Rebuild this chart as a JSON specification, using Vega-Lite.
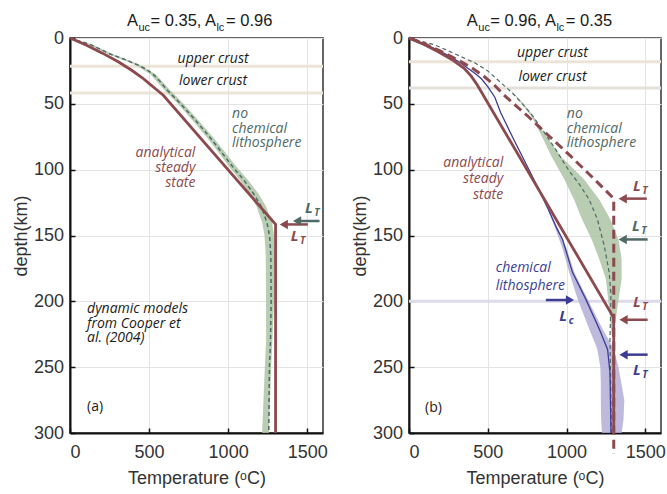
{
"$schema": "https://vega.github.io/schema/vega-lite/v6.json",
"padding": {"left": 11, "top": 12, "right": 0, "bottom": 0},
"config": {
  "view": {"stroke": "#333", "strokeWidth": 1.5},
  "axis": {"labelFont": "Liberation Sans", "labelFontSize": 18, "titleFont": "Liberation Sans", "titleFontSize": 18, "titleFontWeight": "normal", "labelColor": "#333", "titleColor": "#333", "domainColor": "#111", "domainWidth": 2, "gridColor": "#e3e3e3", "tickColor": "#111", "tickSize": -5, "tickWidth": 1.5},
  "concat": {"spacing": 22}
},
"datasets": {
  "ln": [
    {"p":"a","c":"analytic","x":0,"d":0},{"p":"a","c":"analytic","x":105,"d":5.5},{"p":"a","c":"analytic","x":205,"d":11.5},{"p":"a","c":"analytic","x":305,"d":18},{"p":"a","c":"analytic","x":390,"d":24.5},{"p":"a","c":"analytic","x":455,"d":30},{"p":"a","c":"analytic","x":505,"d":35},{"p":"a","c":"analytic","x":550,"d":39.5},{"p":"a","c":"analytic","x":590,"d":43.5},{"p":"a","c":"analytic","x":1300,"d":141.5},{"p":"a","c":"analytic","x":1300,"d":300},
    {"p":"a","c":"dynamic","x":0,"d":0},{"p":"a","c":"dynamic","x":130,"d":5},{"p":"a","c":"dynamic","x":250,"d":12},{"p":"a","c":"dynamic","x":340,"d":16},{"p":"a","c":"dynamic","x":420,"d":20},{"p":"a","c":"dynamic","x":480,"d":23.5},{"p":"a","c":"dynamic","x":525,"d":27.5},{"p":"a","c":"dynamic","x":570,"d":33},{"p":"a","c":"dynamic","x":610,"d":39},{"p":"a","c":"dynamic","x":700,"d":50},{"p":"a","c":"dynamic","x":797,"d":63},{"p":"a","c":"dynamic","x":882,"d":75},{"p":"a","c":"dynamic","x":960,"d":87},{"p":"a","c":"dynamic","x":1030,"d":98},{"p":"a","c":"dynamic","x":1100,"d":108},{"p":"a","c":"dynamic","x":1160,"d":118},{"p":"a","c":"dynamic","x":1210,"d":128},{"p":"a","c":"dynamic","x":1245,"d":140},{"p":"a","c":"dynamic","x":1262,"d":150},{"p":"a","c":"dynamic","x":1270,"d":165},{"p":"a","c":"dynamic","x":1272,"d":200},{"p":"a","c":"dynamic","x":1268,"d":230},{"p":"a","c":"dynamic","x":1261,"d":250},{"p":"a","c":"dynamic","x":1257,"d":300},
    {"p":"b","c":"analytic","x":0,"d":0},{"p":"b","c":"analytic","x":95,"d":5},{"p":"b","c":"analytic","x":180,"d":10},{"p":"b","c":"analytic","x":280,"d":17},{"p":"b","c":"analytic","x":350,"d":23},{"p":"b","c":"analytic","x":395,"d":29},{"p":"b","c":"analytic","x":430,"d":35},{"p":"b","c":"analytic","x":455,"d":40},{"p":"b","c":"analytic","x":1300,"d":212.5},{"p":"b","c":"analytic","x":1300,"d":300},
    {"p":"b","c":"analytic_b","x":0,"d":0},{"p":"b","c":"analytic_b","x":100,"d":4.5},{"p":"b","c":"analytic_b","x":200,"d":10},{"p":"b","c":"analytic_b","x":300,"d":16},{"p":"b","c":"analytic_b","x":390,"d":22},{"p":"b","c":"analytic_b","x":470,"d":28.5},{"p":"b","c":"analytic_b","x":540,"d":35.5},{"p":"b","c":"analytic_b","x":600,"d":43},{"p":"b","c":"analytic_b","x":680,"d":51.5},{"p":"b","c":"analytic_b","x":760,"d":60},{"p":"b","c":"analytic_b","x":840,"d":69},{"p":"b","c":"analytic_b","x":930,"d":79},{"p":"b","c":"analytic_b","x":1020,"d":89},{"p":"b","c":"analytic_b","x":1110,"d":99.5},{"p":"b","c":"analytic_b","x":1200,"d":110},{"p":"b","c":"analytic_b","x":1300,"d":122},{"p":"b","c":"analytic_b","x":1300,"d":316},
    {"p":"b","c":"chemical","x":0,"d":0},{"p":"b","c":"chemical","x":90,"d":4},{"p":"b","c":"chemical","x":180,"d":9},{"p":"b","c":"chemical","x":260,"d":14},{"p":"b","c":"chemical","x":328,"d":19},{"p":"b","c":"chemical","x":380,"d":23.5},{"p":"b","c":"chemical","x":420,"d":27},{"p":"b","c":"chemical","x":460,"d":31},{"p":"b","c":"chemical","x":500,"d":37},{"p":"b","c":"chemical","x":545,"d":45},{"p":"b","c":"chemical","x":583,"d":57},{"p":"b","c":"chemical","x":669,"d":78},{"p":"b","c":"chemical","x":753,"d":98},{"p":"b","c":"chemical","x":816,"d":113},{"p":"b","c":"chemical","x":880,"d":129},{"p":"b","c":"chemical","x":940,"d":145},{"p":"b","c":"chemical","x":975,"d":153},{"p":"b","c":"chemical","x":1038,"d":178},{"p":"b","c":"chemical","x":1123,"d":198.5},{"p":"b","c":"chemical","x":1208,"d":221},{"p":"b","c":"chemical","x":1261,"d":236.5},{"p":"b","c":"chemical","x":1276,"d":254},{"p":"b","c":"chemical","x":1282,"d":297},{"p":"b","c":"chemical","x":1282,"d":300},
    {"p":"b","c":"dynamic","x":0,"d":0},{"p":"b","c":"dynamic","x":159,"d":5},{"p":"b","c":"dynamic","x":300,"d":12.5},{"p":"b","c":"dynamic","x":420,"d":19},{"p":"b","c":"dynamic","x":500,"d":25},{"p":"b","c":"dynamic","x":593,"d":35},{"p":"b","c":"dynamic","x":650,"d":41},{"p":"b","c":"dynamic","x":720,"d":50},{"p":"b","c":"dynamic","x":784,"d":59},{"p":"b","c":"dynamic","x":850,"d":70},{"p":"b","c":"dynamic","x":933,"d":85},{"p":"b","c":"dynamic","x":1017,"d":101},{"p":"b","c":"dynamic","x":1081,"d":111},{"p":"b","c":"dynamic","x":1144,"d":122.7},{"p":"b","c":"dynamic","x":1197,"d":138},{"p":"b","c":"dynamic","x":1240,"d":158},{"p":"b","c":"dynamic","x":1271,"d":178},{"p":"b","c":"dynamic","x":1282,"d":195},{"p":"b","c":"dynamic","x":1280,"d":210},{"p":"b","c":"dynamic","x":1276,"d":229},{"p":"b","c":"dynamic","x":1280,"d":260},{"p":"b","c":"dynamic","x":1285,"d":300}
  ],
  "bd": [
    {"p":"a","c":"band_dyn","d":0,"x":0,"hi":0},{"p":"a","c":"band_dyn","d":5,"x":118,"hi":142},{"p":"a","c":"band_dyn","d":12,"x":235,"hi":265},{"p":"a","c":"band_dyn","d":20,"x":405,"hi":435},{"p":"a","c":"band_dyn","d":27.5,"x":508,"hi":542},{"p":"a","c":"band_dyn","d":39,"x":592,"hi":628},{"p":"a","c":"band_dyn","d":50,"x":682,"hi":718},{"p":"a","c":"band_dyn","d":63,"x":778,"hi":816},{"p":"a","c":"band_dyn","d":75,"x":862,"hi":902},{"p":"a","c":"band_dyn","d":87,"x":940,"hi":982},{"p":"a","c":"band_dyn","d":98,"x":1008,"hi":1054},{"p":"a","c":"band_dyn","d":108,"x":1075,"hi":1127},{"p":"a","c":"band_dyn","d":118,"x":1132,"hi":1190},{"p":"a","c":"band_dyn","d":128,"x":1180,"hi":1240},{"p":"a","c":"band_dyn","d":140,"x":1215,"hi":1278},{"p":"a","c":"band_dyn","d":150,"x":1230,"hi":1290},{"p":"a","c":"band_dyn","d":165,"x":1238,"hi":1295},{"p":"a","c":"band_dyn","d":200,"x":1240,"hi":1290},{"p":"a","c":"band_dyn","d":230,"x":1240,"hi":1280},{"p":"a","c":"band_dyn","d":250,"x":1232,"hi":1272},{"p":"a","c":"band_dyn","d":300,"x":1215,"hi":1258},
    {"p":"b","c":"band_dyn","d":40,"x":648,"hi":652},{"p":"b","c":"band_dyn","d":50,"x":715,"hi":728},{"p":"b","c":"band_dyn","d":60,"x":780,"hi":795},{"p":"b","c":"band_dyn","d":65,"x":800,"hi":815},{"p":"b","c":"band_dyn","d":75,"x":845,"hi":875},{"p":"b","c":"band_dyn","d":90,"x":905,"hi":965},{"p":"b","c":"band_dyn","d":107,"x":985,"hi":1110},{"p":"b","c":"band_dyn","d":123,"x":1049,"hi":1210},{"p":"b","c":"band_dyn","d":138,"x":1100,"hi":1280},{"p":"b","c":"band_dyn","d":153,"x":1160,"hi":1330},{"p":"b","c":"band_dyn","d":168,"x":1208,"hi":1350},{"p":"b","c":"band_dyn","d":183,"x":1250,"hi":1350},{"p":"b","c":"band_dyn","d":199,"x":1265,"hi":1330},{"p":"b","c":"band_dyn","d":212,"x":1275,"hi":1315},{"p":"b","c":"band_dyn","d":226,"x":1288,"hi":1298},
    {"p":"b","c":"band_chem","d":130,"x":880,"hi":886},{"p":"b","c":"band_chem","d":145,"x":930,"hi":948},{"p":"b","c":"band_chem","d":160,"x":975,"hi":1002},{"p":"b","c":"band_chem","d":178,"x":1017,"hi":1049},{"p":"b","c":"band_chem","d":198,"x":1070,"hi":1133},{"p":"b","c":"band_chem","d":221,"x":1144,"hi":1229},{"p":"b","c":"band_chem","d":236,"x":1195,"hi":1300},{"p":"b","c":"band_chem","d":250,"x":1215,"hi":1330},{"p":"b","c":"band_chem","d":262,"x":1218,"hi":1348},{"p":"b","c":"band_chem","d":275,"x":1218,"hi":1367},{"p":"b","c":"band_chem","d":290,"x":1220,"hi":1362},{"p":"b","c":"band_chem","d":300,"x":1225,"hi":1350}
  ],
  "hl": [
    {"p":"a","c":"crust","d":21.5,"x":0,"x2":1600},{"p":"a","c":"crust","d":41.7,"x":0,"x2":1600},
    {"p":"b","c":"crust","d":18,"x":0,"x2":1600},{"p":"b","c":"crust2","d":38,"x":0,"x2":1600},{"p":"b","c":"lc200","d":200,"x":0,"x2":1600}
  ],
  "ar": [
    {"p":"a","c":"dynamic","d":139,"x":1436,"x0":1578,"dir":"left"},
    {"p":"a","c":"analytic","d":141.6,"x":1352,"x0":1504,"dir":"left"},
    {"p":"b","c":"analytic","d":122,"x":1357,"x0":1510,"dir":"left"},
    {"p":"b","c":"dynamic","d":153,"x":1357,"x0":1515,"dir":"left"},
    {"p":"b","c":"chemical","d":199,"x":1022,"x0":869,"dir":"right"},
    {"p":"b","c":"analytic","d":214,"x":1362,"x0":1515,"dir":"left"},
    {"p":"b","c":"chemical","d":240.5,"x":1362,"x0":1515,"dir":"left"}
  ],
  "tx": [
    {"p":"a","k":"cen","c":"note","x":905,"d":16,"t":"upper crust"},
    {"p":"a","k":"cen","c":"note","x":905,"d":33,"t":"lower crust"},
    {"p":"a","k":"left","c":"dynamic","x":1025,"d":58,"t":"no"},
    {"p":"a","k":"left","c":"dynamic","x":1025,"d":69,"t":"chemical"},
    {"p":"a","k":"left","c":"dynamic","x":1025,"d":80,"t":"lithosphere"},
    {"p":"a","k":"left","c":"note","x":108,"d":206,"t":"dynamic models"},
    {"p":"a","k":"left","c":"note","x":108,"d":217,"t":"from Cooper et"},
    {"p":"a","k":"left","c":"note","x":108,"d":228,"t":"al. (2004)"},
    {"p":"a","k":"right","c":"analytic","x":793,"d":87,"t":"analytical"},
    {"p":"a","k":"right","c":"analytic","x":793,"d":99,"t":"steady"},
    {"p":"a","k":"right","c":"analytic","x":793,"d":110.5,"t":"state"},
    {"p":"a","k":"plain","c":"note","x":108,"d":280,"t":"(a)"},
    {"p":"a","k":"title","c":"note","x":360,"d":-8.8,"t":"A"},
    {"p":"a","k":"title","c":"note","x":509,"d":-8.8,"t":"= 0.35,"},
    {"p":"a","k":"title","c":"note","x":854,"d":-8.8,"t":"A"},
    {"p":"a","k":"title","c":"note","x":987,"d":-8.8,"t":"= 0.96"},
    {"p":"a","k":"tsub","c":"note","x":433,"d":-5,"t":"uc"},
    {"p":"a","k":"tsub","c":"note","x":926,"d":-5,"t":"lc"},
    {"p":"a","k":"L","c":"dynamic","x":1511,"d":129,"t":"L","s":"T"},
    {"p":"a","k":"L","c":"analytic","x":1420,"d":150.3,"t":"L","s":"T"},
    {"p":"b","k":"cen","c":"note","x":911,"d":11.4,"t":"upper crust"},
    {"p":"b","k":"cen","c":"note","x":911,"d":29.6,"t":"lower crust"},
    {"p":"b","k":"left","c":"dynamic","x":1002,"d":57.5,"t":"no"},
    {"p":"b","k":"left","c":"dynamic","x":1002,"d":69,"t":"chemical"},
    {"p":"b","k":"left","c":"dynamic","x":1002,"d":80,"t":"lithosphere"},
    {"p":"b","k":"left","c":"chemical","x":551,"d":175,"t":"chemical"},
    {"p":"b","k":"left","c":"chemical","x":551,"d":188,"t":"lithosphere"},
    {"p":"b","k":"right","c":"analytic","x":598,"d":95,"t":"analytical"},
    {"p":"b","k":"right","c":"analytic","x":598,"d":107,"t":"steady"},
    {"p":"b","k":"right","c":"analytic","x":598,"d":119.6,"t":"state"},
    {"p":"b","k":"plain","c":"note","x":102,"d":281,"t":"(b)"},
    {"p":"b","k":"title","c":"note","x":367,"d":-8.8,"t":"A"},
    {"p":"b","k":"title","c":"note","x":516,"d":-8.8,"t":"= 0.96,"},
    {"p":"b","k":"title","c":"note","x":863,"d":-8.8,"t":"A"},
    {"p":"b","k":"title","c":"note","x":996,"d":-8.8,"t":"= 0.35"},
    {"p":"b","k":"tsub","c":"note","x":440,"d":-5,"t":"uc"},
    {"p":"b","k":"tsub","c":"note","x":936,"d":-5,"t":"lc"},
    {"p":"b","k":"L","c":"analytic","x":1447,"d":112.6,"t":"L","s":"T"},
    {"p":"b","k":"L","c":"dynamic","x":1441,"d":143,"t":"L","s":"T"},
    {"p":"b","k":"L","c":"analytic","x":1447,"d":200.6,"t":"L","s":"T"},
    {"p":"b","k":"L","c":"chemical","x":1447,"d":252.4,"t":"L","s":"T"},
    {"p":"b","k":"L","c":"chemical","x":979,"d":211,"t":"L","s":"c"}
  ]
},
"hconcat": [
 {
  "width": 253, "height": 395,
  "encoding": {
    "x": {"field": "x", "type": "quantitative", "scale": {"domain": [0, 1600], "nice": false, "zero": false}, "axis": {"values": [0, 500, 1000, 1500], "format": "d", "title": "Temperature (ᵒC)", "labelPadding": 15, "titlePadding": 8}},
    "y": {"field": "d", "type": "quantitative", "scale": {"domain": [0, 300], "reverse": true, "nice": false, "zero": false}, "axis": {"values": [0, 50, 100, 150, 200, 250, 300], "format": "d", "title": "depth(km)", "labelPadding": 11.5, "titlePadding": 3}},
    "color": {"field": "c", "type": "nominal", "legend": null, "scale": {"domain": ["analytic","dynamic","chemical","analytic_b","note","crust","crust2","lc200","band_dyn","band_chem"], "range": ["#8c4a4e","#4f6966","#3c3c92","#8c4a4e","#1a1a1a","#ece4d8","#e4e1dc","#dddaeb","#adc4a5","#b2aed7"]}}
  },
  "layer": [
    {"data": {"name": "hl"}, "transform": [{"filter": "datum.p == 'a'"}], "mark": {"type": "rule", "strokeWidth": 3}, "encoding": {"x2": {"field": "x2"}}},
    {"data": {"name": "bd"}, "transform": [{"filter": "datum.p == 'a'"}], "mark": {"type": "area", "orient": "horizontal", "opacity": 0.85}, "encoding": {"x2": {"field": "hi"}}},
    {"data": {"name": "ln"}, "transform": [{"filter": "datum.p == 'a' && datum.c == 'dynamic'"}], "mark": {"type": "line", "strokeWidth": 1.5, "strokeDash": [4, 3]}, "encoding": {"order": {"field": "d", "type": "quantitative"}}},
    {"data": {"name": "ln"}, "transform": [{"filter": "datum.p == 'a' && datum.c == 'analytic'"}], "mark": {"type": "line", "strokeWidth": 2.8}, "encoding": {"order": {"field": "d", "type": "quantitative"}}},
    {"data": {"name": "ar"}, "transform": [{"filter": "datum.p == 'a'"}], "mark": {"type": "rule", "strokeWidth": 2.5}, "encoding": {"x2": {"field": "x0"}}},
    {"data": {"name": "ar"}, "transform": [{"filter": "datum.p == 'a'"}], "mark": {"type": "point", "filled": true, "size": 90, "opacity": 1}, "encoding": {"shape": {"field": "dir", "type": "nominal", "legend": null, "scale": {"domain": ["left","right"], "range": ["triangle-left","triangle-right"]}}}},
    {"data": {"name": "tx"}, "transform": [{"filter": "datum.p == 'a' && datum.k == 'cen'"}], "mark": {"type": "text", "font": "Open Sans", "fontStyle": "italic", "fontSize": 14, "align": "center", "baseline": "middle"}, "encoding": {"text": {"field": "t"}}},
    {"data": {"name": "tx"}, "transform": [{"filter": "datum.p == 'a' && datum.k == 'left'"}], "mark": {"type": "text", "font": "Open Sans", "fontStyle": "italic", "fontSize": 14, "align": "left", "baseline": "middle"}, "encoding": {"text": {"field": "t"}}},
    {"data": {"name": "tx"}, "transform": [{"filter": "datum.p == 'a' && datum.k == 'right'"}], "mark": {"type": "text", "font": "Open Sans", "fontStyle": "italic", "fontSize": 14, "align": "right", "baseline": "middle"}, "encoding": {"text": {"field": "t"}}},
    {"data": {"name": "tx"}, "transform": [{"filter": "datum.p == 'a' && datum.k == 'plain'"}], "mark": {"type": "text", "font": "Open Sans", "fontSize": 14, "align": "left", "baseline": "middle"}, "encoding": {"text": {"field": "t"}}},
    {"data": {"name": "tx"}, "transform": [{"filter": "datum.p == 'a' && datum.k == 'title'"}], "mark": {"type": "text", "font": "Liberation Sans", "fontSize": 16.5, "align": "left", "baseline": "alphabetic"}, "encoding": {"text": {"field": "t"}}},
    {"data": {"name": "tx"}, "transform": [{"filter": "datum.p == 'a' && datum.k == 'tsub'"}], "mark": {"type": "text", "font": "Liberation Sans", "fontSize": 11, "align": "left", "baseline": "alphabetic"}, "encoding": {"text": {"field": "t"}}},
    {"data": {"name": "tx"}, "transform": [{"filter": "datum.p == 'a' && datum.k == 'L'"}], "mark": {"type": "text", "font": "Open Sans", "fontStyle": "italic", "fontWeight": "bold", "fontSize": 15, "align": "center", "baseline": "middle"}, "encoding": {"text": {"field": "t"}}},
    {"data": {"name": "tx"}, "transform": [{"filter": "datum.p == 'a' && datum.k == 'L'"}], "mark": {"type": "text", "font": "Open Sans", "fontStyle": "italic", "fontWeight": "bold", "fontSize": 10, "align": "center", "baseline": "middle", "dx": 8, "dy": 5}, "encoding": {"text": {"field": "s"}}}
  ]
 },
 {
  "width": 252, "height": 395,
  "encoding": {
    "x": {"field": "x", "type": "quantitative", "scale": {"domain": [0, 1600], "nice": false, "zero": false}, "axis": {"values": [0, 500, 1000, 1500], "format": "d", "title": "Temperature (ᵒC)", "labelPadding": 15, "titlePadding": 8}},
    "y": {"field": "d", "type": "quantitative", "scale": {"domain": [0, 300], "reverse": true, "nice": false, "zero": false}, "axis": {"values": [0, 50, 100, 150, 200, 250, 300], "format": "d", "title": "depth(km)", "labelPadding": 11.5, "titlePadding": 3}},
    "color": {"field": "c", "type": "nominal", "legend": null, "scale": {"domain": ["analytic","dynamic","chemical","analytic_b","note","crust","crust2","lc200","band_dyn","band_chem"], "range": ["#8c4a4e","#4f6966","#3c3c92","#8c4a4e","#1a1a1a","#ece4d8","#e4e1dc","#dddaeb","#a3bc9b","#b2aed7"]}}
  },
  "layer": [
    {"data": {"name": "hl"}, "transform": [{"filter": "datum.p == 'b'"}], "mark": {"type": "rule", "strokeWidth": 3}, "encoding": {"x2": {"field": "x2"}}},
    {"data": {"name": "bd"}, "transform": [{"filter": "datum.p == 'b'"}], "mark": {"type": "area", "orient": "horizontal", "opacity": 0.85}, "encoding": {"x2": {"field": "hi"}}},
    {"data": {"name": "ln"}, "transform": [{"filter": "datum.p == 'b' && datum.c == 'dynamic'"}], "mark": {"type": "line", "strokeWidth": 1.2, "strokeDash": [4, 3]}, "encoding": {"order": {"field": "d", "type": "quantitative"}}},
    {"data": {"name": "ln"}, "transform": [{"filter": "datum.p == 'b' && datum.c == 'chemical'"}], "mark": {"type": "line", "strokeWidth": 1.3}, "encoding": {"order": {"field": "d", "type": "quantitative"}}},
    {"data": {"name": "ln"}, "transform": [{"filter": "datum.p == 'b' && datum.c == 'analytic'"}], "mark": {"type": "line", "strokeWidth": 2.8}, "encoding": {"order": {"field": "d", "type": "quantitative"}}},
    {"data": {"name": "ln"}, "transform": [{"filter": "datum.p == 'b' && datum.c == 'analytic_b'"}], "mark": {"type": "line", "strokeWidth": 3, "strokeDash": [9, 5]}, "encoding": {"order": {"field": "d", "type": "quantitative"}}},
    {"data": {"name": "ar"}, "transform": [{"filter": "datum.p == 'b'"}], "mark": {"type": "rule", "strokeWidth": 2.5}, "encoding": {"x2": {"field": "x0"}}},
    {"data": {"name": "ar"}, "transform": [{"filter": "datum.p == 'b'"}], "mark": {"type": "point", "filled": true, "size": 90, "opacity": 1}, "encoding": {"shape": {"field": "dir", "type": "nominal", "legend": null, "scale": {"domain": ["left","right"], "range": ["triangle-left","triangle-right"]}}}},
    {"data": {"name": "tx"}, "transform": [{"filter": "datum.p == 'b' && datum.k == 'cen'"}], "mark": {"type": "text", "font": "Open Sans", "fontStyle": "italic", "fontSize": 14, "align": "center", "baseline": "middle"}, "encoding": {"text": {"field": "t"}}},
    {"data": {"name": "tx"}, "transform": [{"filter": "datum.p == 'b' && datum.k == 'left'"}], "mark": {"type": "text", "font": "Open Sans", "fontStyle": "italic", "fontSize": 14, "align": "left", "baseline": "middle"}, "encoding": {"text": {"field": "t"}}},
    {"data": {"name": "tx"}, "transform": [{"filter": "datum.p == 'b' && datum.k == 'right'"}], "mark": {"type": "text", "font": "Open Sans", "fontStyle": "italic", "fontSize": 14, "align": "right", "baseline": "middle"}, "encoding": {"text": {"field": "t"}}},
    {"data": {"name": "tx"}, "transform": [{"filter": "datum.p == 'b' && datum.k == 'plain'"}], "mark": {"type": "text", "font": "Open Sans", "fontSize": 14, "align": "left", "baseline": "middle"}, "encoding": {"text": {"field": "t"}}},
    {"data": {"name": "tx"}, "transform": [{"filter": "datum.p == 'b' && datum.k == 'title'"}], "mark": {"type": "text", "font": "Liberation Sans", "fontSize": 16.5, "align": "left", "baseline": "alphabetic"}, "encoding": {"text": {"field": "t"}}},
    {"data": {"name": "tx"}, "transform": [{"filter": "datum.p == 'b' && datum.k == 'tsub'"}], "mark": {"type": "text", "font": "Liberation Sans", "fontSize": 11, "align": "left", "baseline": "alphabetic"}, "encoding": {"text": {"field": "t"}}},
    {"data": {"name": "tx"}, "transform": [{"filter": "datum.p == 'b' && datum.k == 'L'"}], "mark": {"type": "text", "font": "Open Sans", "fontStyle": "italic", "fontWeight": "bold", "fontSize": 15, "align": "center", "baseline": "middle"}, "encoding": {"text": {"field": "t"}}},
    {"data": {"name": "tx"}, "transform": [{"filter": "datum.p == 'b' && datum.k == 'L'"}], "mark": {"type": "text", "font": "Open Sans", "fontStyle": "italic", "fontWeight": "bold", "fontSize": 10, "align": "center", "baseline": "middle", "dx": 8, "dy": 5}, "encoding": {"text": {"field": "s"}}}
  ]
 }
]
}
